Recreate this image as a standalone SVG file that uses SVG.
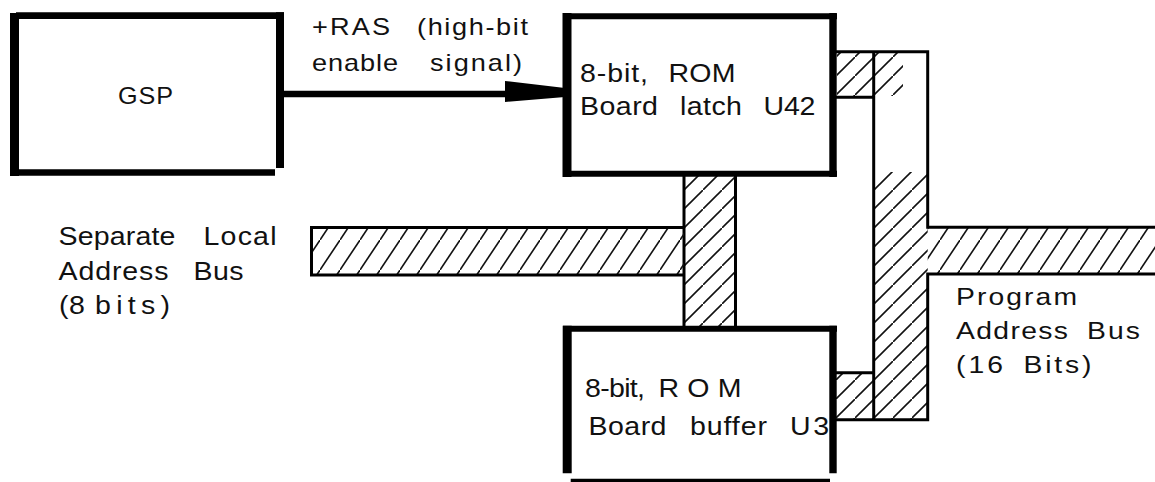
<svg xmlns="http://www.w3.org/2000/svg" width="1155" height="482" viewBox="0 0 1155 482">
<style>
.t{font-family:"Liberation Sans",Arial,sans-serif;fill:#111}
.box{stroke:#000;fill:none;stroke-linecap:butt}
.bus{stroke:#000;stroke-width:3;fill:none}
</style>
<defs>
<pattern id="hh" patternUnits="userSpaceOnUse" width="20" height="30"><path d="M-2,33 L22,-3" stroke="#111" stroke-width="1.6"/></pattern>
<pattern id="hv" patternUnits="userSpaceOnUse" width="19" height="19"><path d="M-2,21 L21,-2" stroke="#111" stroke-width="1.6"/></pattern>
</defs>
<rect width="1155" height="482" fill="#fff"/>

<g id="connectors">
  <line x1="284" y1="94" x2="506" y2="94" stroke="#000" stroke-width="6.5"/>
  <polygon points="505,81 565,88 565,97 505,102" fill="#000"/>
  <rect x="684" y="176" width="51.5" height="151" fill="url(#hv)"/>
  <path class="bus" d="M684,176 V327 M735.5,176 V327"/>
</g>

<g id="local-bus">
  <rect x="311.5" y="227.5" width="372.5" height="47.5" fill="url(#hh)"/>
  <path class="bus" d="M684,227.5 H311.5 V275 H684"/>
  <text class="t" font-size="25.5" transform="scale(1.12,1)"><tspan x="52.23" y="245" textLength="104.46" lengthAdjust="spacing">Separate</tspan> <tspan x="181.7" y="245" textLength="65.18" lengthAdjust="spacing">Local</tspan></text>
  <text class="t" font-size="25.5" transform="scale(1.12,1)"><tspan x="52.23" y="280" textLength="98.21" lengthAdjust="spacing">Address</tspan> <tspan x="172.77" y="280" textLength="44.64" lengthAdjust="spacing">Bus</tspan></text>
  <text class="t" font-size="25.5" transform="scale(1.12,1)"><tspan x="52.68" y="314" textLength="23.21" lengthAdjust="spacing">(8</tspan> <tspan x="84.82" y="314" textLength="66.96" lengthAdjust="spacing">bits)</tspan></text>
</g>

<g id="program-bus">
  <rect x="837" y="51.7" width="37" height="45.6" fill="url(#hv)"/>
  <rect x="874" y="53" width="29" height="43" fill="url(#hv)"/>
  <rect x="873.7" y="172" width="54" height="248" fill="url(#hv)"/>
  <rect x="927.7" y="227.3" width="230" height="46.7" fill="url(#hh)"/>
  <rect x="836" y="372.8" width="38" height="47" fill="url(#hv)"/>
  <path class="bus" d="M836,51.7 H927.7 V227.3 H1160 M1160,274 H927.7 V419.8 H836 M836,97.3 H873.7 M873.7,51.7 V419.8 M836,372.8 H873.7"/>
  <text class="t" font-size="24" transform="scale(1.18,1)"><tspan x="810.17" y="305" textLength="102.54" lengthAdjust="spacing">Program</tspan></text>
  <text class="t" font-size="24" transform="scale(1.18,1)"><tspan x="810.17" y="339" textLength="94.92" lengthAdjust="spacing">Address</tspan> <tspan x="921.19" y="339" textLength="44.92" lengthAdjust="spacing">Bus</tspan></text>
  <text class="t" font-size="24" transform="scale(1.18,1)"><tspan x="810.17" y="373" textLength="39.83" lengthAdjust="spacing">(16</tspan> <tspan x="867.37" y="373" textLength="57.63" lengthAdjust="spacing">Bits)</tspan></text>
</g>

<g id="ras-label">
  <text class="t" font-size="23" transform="scale(1.18,1)"><tspan x="264.41" y="35" textLength="66.1" lengthAdjust="spacing">+RAS</tspan> <tspan x="353.39" y="35" textLength="94.07" lengthAdjust="spacing">(high-bit</tspan></text>
  <text class="t" font-size="23" transform="scale(1.18,1)"><tspan x="264.41" y="71" textLength="72.88" lengthAdjust="spacing">enable</tspan> <tspan x="364.41" y="71" textLength="77.97" lengthAdjust="spacing">signal)</tspan></text>
</g>

<g id="gsp">
  <path class="box" stroke-width="9" d="M14.5,13 V176"/>
  <path class="box" stroke-width="6.7" d="M16,15.7 H284"/>
  <path class="box" stroke-width="8" d="M280,12.3 V168"/>
  <path class="box" stroke-width="6.5" d="M10,172.5 H275"/>
  <text class="t" font-size="24" transform="scale(1.05,1)"><tspan x="112.38" y="104" textLength="52.38" lengthAdjust="spacing">GSP</tspan></text>
</g>

<g id="latch">
  <path class="box" stroke-width="9" d="M567,13 V177"/>
  <path class="box" stroke-width="6" d="M563,16.2 H837"/>
  <path class="box" stroke-width="7.4" d="M833,13 V177"/>
  <path class="box" stroke-width="6" d="M563,173.7 H837"/>
  <text class="t" font-size="25.5" transform="scale(1.12,1)"><tspan x="517.86" y="82" textLength="60.71" lengthAdjust="spacing">8-bit,</tspan> <tspan x="596.88" y="82" textLength="59.82" lengthAdjust="spacing">ROM</tspan></text>
  <text class="t" font-size="25.5" transform="scale(1.12,1)"><tspan x="517.86" y="115" textLength="69.64" lengthAdjust="spacing">Board</tspan> <tspan x="607.14" y="115" textLength="55.36" lengthAdjust="spacing">latch</tspan> <tspan x="681.7" y="115" textLength="46.43" lengthAdjust="spacing">U42</tspan></text>
</g>

<g id="buffer">
  <path class="box" stroke-width="9" d="M567.2,325.7 V473.3"/>
  <path class="box" stroke-width="6" d="M563,328.7 H837"/>
  <path class="box" stroke-width="7.4" d="M833,325.7 V473.3"/>
  <path class="box" stroke-width="3.5" d="M570.7,480.5 H830"/>
  <text class="t" font-size="25.5" transform="scale(1.12,1)"><tspan x="522.32" y="397" textLength="53.57" lengthAdjust="spacing">8-bit,</tspan> <tspan x="587.95" y="397" textLength="74.11" lengthAdjust="spacing">ROM</tspan></text>
  <text class="t" font-size="25.5" transform="scale(1.12,1)"><tspan x="525.45" y="435" textLength="69.64" lengthAdjust="spacing">Board</tspan> <tspan x="616.07" y="435" textLength="68.75" lengthAdjust="spacing">buffer</tspan> <tspan x="705.36" y="435" textLength="35" lengthAdjust="spacing">U3</tspan></text>
</g>
</svg>
